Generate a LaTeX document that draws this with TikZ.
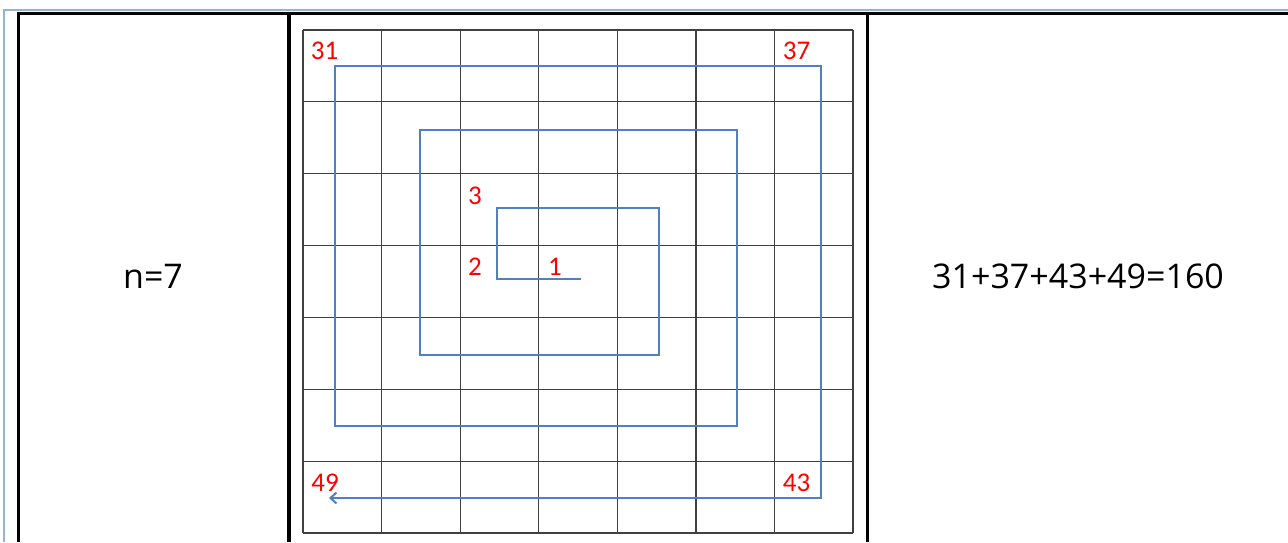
\documentclass[tikz,border=0pt]{standalone}
\usepackage{fontspec}
\setmainfont{Open Sans}
\newfontfamily\labelfont{Carlito}
\usetikzlibrary{arrows.meta}
\definecolor{frameblue}{RGB}{149,179,215}
\definecolor{spiralblue}{RGB}{79,129,189}
\definecolor{labelred}{RGB}{255,0,0}
\begin{document}
\begin{tikzpicture}[x=1pt,y=-1pt,
  bigtext/.style={inner sep=0pt,font=\fontsize{34}{40}\selectfont},
  redlabel/.style={inner sep=0pt,text=labelred,font=\labelfont\fontsize{27}{30}\selectfont},
  gridline/.style={draw=black!75,line width=1.1pt},
  tablerule/.style={draw=black,line width=3.3pt},
  framerule/.style={draw=frameblue,line width=2.2pt},
  spiral/.style={draw=spiralblue,line width=2.2pt,line join=miter}
]
\useasboundingbox (0,0) rectangle (1288,542);
\fill[white] (0,0) rectangle (1288,542);
% outer frame (light blue)
\draw[framerule] (3.7,542) -- (3.7,10) -- (1288,10);
% table rules (black)
\draw[draw=black,line width=2.7pt] (16.7,13.2) -- (1288,13.2);
\draw[tablerule] (18.3,13) -- (18.3,542);
\draw[tablerule] (289,13) -- (289,542);
\draw[tablerule] (867.7,13) -- (867.7,542);
% grid
\foreach \x in {303,381.6,460.2,538.8,617.4,696,774.6,853} {
  \draw[gridline] (\x,30) -- (\x,533);
}
\foreach \y in {30,101.9,173.7,245.6,317.4,389.3,461.1,533} {
  \draw[gridline] (303,\y) -- (853,\y);
}
% spiral corners
\coordinate (s0) at (581,279);
\coordinate (s1) at (497,279);
\coordinate (s2) at (497,208);
\coordinate (s3) at (659,208);
\coordinate (s4) at (659,355);
\coordinate (s5) at (420,355);
\coordinate (s6) at (420,130);
\coordinate (s7) at (737,130);
\coordinate (s8) at (737,426);
\coordinate (s9) at (335,426);
\coordinate (s10) at (335,66);
\coordinate (s11) at (821,66);
\coordinate (s12) at (821,498);
\coordinate (s13) at (329,498);
\draw[draw=black!25,line width=2pt,xshift=1pt,yshift=1.5pt] (s0) -- (s1) -- (s2) -- (s3) -- (s4) -- (s5) -- (s6) -- (s7) -- (s8) -- (s9) -- (s10) -- (s11) -- (s12) -- ([xshift=4pt]s13);
\draw[spiral,-{Straight Barb[length=6pt,width=11pt,line width=2pt]}] (s0) -- (s1) -- (s2) -- (s3) -- (s4) -- (s5) -- (s6) -- (s7) -- (s8) -- (s9) -- (s10) -- (s11) -- (s12) -- (s13);
% red labels
\node[redlabel] (l31) at (324.5,51) {31};
\node[redlabel] (l37) at (796.5,51) {37};
\node[redlabel] (l3) at (475,196) {3};
\node[redlabel] (l2) at (475,267) {2};
\node[redlabel] (l1) at (555,267) {1};
\node[redlabel] (l49) at (325,483) {49};
\node[redlabel] (l43) at (796.5,482.5) {43};
% cell texts
\node[bigtext] (n) at (153,276.5) {n=7};
\node[bigtext] (sum) at (1078,276.5) {31+37+43+49=160};
\end{tikzpicture}
\end{document}
